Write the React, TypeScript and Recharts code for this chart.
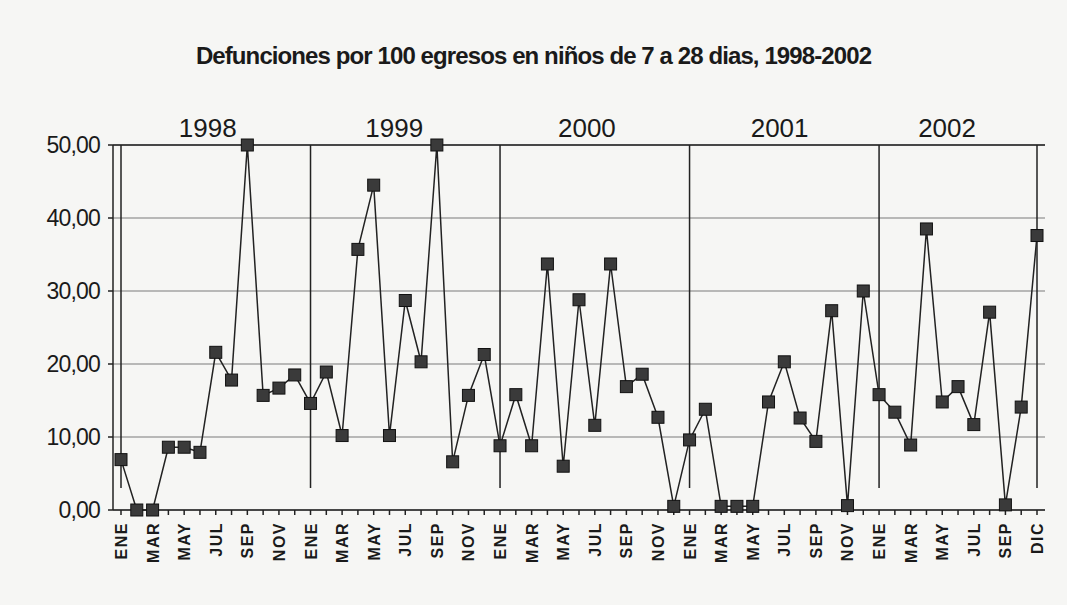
import React from 'react';
import { LineChart, Line, XAxis, YAxis, CartesianGrid, ReferenceLine } from 'recharts';

// Monthly deaths per 100 discharges, children 7-28 days, 1998-2002.
// 2002 has only 11 months in the source (last label is DIC).
const MONTHS = ['ENE', 'FEB', 'MAR', 'ABR', 'MAY', 'JUN', 'JUL', 'AGO', 'SEP', 'OCT', 'NOV', 'DIC'];
const MONTHS_2002 = ['ENE', 'FEB', 'MAR', 'ABR', 'MAY', 'JUN', 'JUL', 'AGO', 'SEP', 'OCT', 'DIC'];
const YEARS = ['1998', '1999', '2000', '2001', '2002'];

const V1998 = [6.9, 0, 0, 8.6, 8.6, 7.9, 21.6, 17.8, 50.0, 15.7, 16.7, 18.5];
const V1999 = [14.6, 18.9, 10.2, 35.7, 44.5, 10.2, 28.7, 20.3, 50.0, 6.6, 15.7, 21.3];
const V2000 = [8.8, 15.8, 8.8, 33.7, 6.0, 28.8, 11.6, 33.7, 16.9, 18.6, 12.7, 0.5];
const V2001 = [9.6, 13.8, 0.5, 0.5, 0.5, 14.8, 20.3, 12.6, 9.4, 27.3, 0.6, 30.0];
const V2002 = [15.8, 13.4, 8.9, 38.5, 14.8, 16.9, 11.7, 27.1, 0.7, 14.1, 37.6];

const Y_TICKS = [0, 10, 20, 30, 40, 50];
// where the year captions sit along the month index axis
const YEAR_TICKS = [5.5, 17.3, 29.5, 41.7, 52.3];
// month indexes that carry a year separator line
const SEPARATORS = [0, 12, 24, 36, 48, 58];

const SERIES = [V1998, V1999, V2000, V2001, V2002];

const data = SERIES.flatMap((vals, yi) => {
  const months = yi === 4 ? MONTHS_2002 : MONTHS;
  return vals.map((v, mi) => ({ key: `${YEARS[yi]}-${months[mi]}`, month: months[mi], value: v }));
}).map((d, i) => ({ ...d, i }));

const fmt = (v: number) => v.toFixed(2).replace('.', ',');
const FONT = 'Liberation Sans, Arial, sans-serif';

const MonthTick = (props: any) => {
  const { x, y, payload, index } = props;
  if (index % 2 !== 0) return <g />;
  const month = String(payload.value).split('-')[1];
  return (
    <text
      transform={`translate(${x + 6},${y + 5}) rotate(-90)`}
      textAnchor="end"
      fontFamily={FONT}
      fontWeight={700}
      fontSize={16}
      letterSpacing={1.5}
      fill="#1a1a1a"
    >
      {month}
    </text>
  );
};

const SquareDot = (props: any) => {
  const { cx, cy, index } = props;
  if (cx == null || cy == null) return <g key={index} />;
  return <rect key={index} x={cx - 6} y={cy - 6} width={12} height={12} fill="#3a3a3a" stroke="#111" strokeWidth={1} />;
};

export default function App() {
  return (
    <div style={{ position: 'absolute', left: 0, top: 0, width: 1067, height: 605, background: '#f6f6f4' }}>
      <div
        style={{
          position: 'absolute',
          top: 42,
          left: 0,
          width: 1067,
          textAlign: 'center',
          fontFamily: FONT,
          fontWeight: 700,
          fontSize: 24,
          letterSpacing: -0.9,
          color: '#1a1a1a',
        }}
      >
        Defunciones por 100 egresos en niños de 7 a 28 dias, 1998-2002
      </div>
      <LineChart width={1067} height={605} data={data} margin={{ top: 0, right: 22, bottom: 35, left: 0 }}>
        <CartesianGrid vertical={false} stroke="#7a7a7a" strokeWidth={1} />
        <XAxis
          dataKey="key"
          interval={0}
          height={60}
          padding={{ left: 8, right: 8 }}
          tick={<MonthTick />}
          tickSize={5}
          stroke="#222"
          strokeWidth={1.5}
        />
        <XAxis
          xAxisId="years"
          orientation="top"
          type="number"
          dataKey="i"
          domain={[-0.5, data.length - 0.5]}
          ticks={YEAR_TICKS}
          tickFormatter={(v: number) => YEARS[YEAR_TICKS.indexOf(v)]}
          axisLine={false}
          tickLine={false}
          tickSize={0}
          tickMargin={8}
          height={145}
          tick={{ fontFamily: FONT, fontSize: 26, fill: '#1a1a1a' }}
        />
        <YAxis
          domain={[0, 50]}
          ticks={Y_TICKS}
          tickFormatter={fmt}
          width={113}
          tickSize={5}
          tickMargin={8}
          stroke="#222"
          strokeWidth={1.5}
          tick={{ fontFamily: FONT, fontSize: 23, letterSpacing: -0.8, fill: '#1a1a1a' }}
        />
        <YAxis yAxisId="right" orientation="right" width={0} tick={false} tickLine={false} stroke="#444" />
        <ReferenceLine y={50} stroke="#222" strokeWidth={1.5} />
        {SEPARATORS.map((idx) => (
          <ReferenceLine
            key={idx}
            segment={[
              { x: data[idx].key, y: 3 },
              { x: data[idx].key, y: 50 },
            ]}
            stroke="#222"
            strokeWidth={1.5}
          />
        ))}
        <Line
          type="linear"
          dataKey="value"
          stroke="#222"
          strokeWidth={1.5}
          dot={<SquareDot />}
          activeDot={false}
          isAnimationActive={false}
        />
      </LineChart>
    </div>
  );
}
